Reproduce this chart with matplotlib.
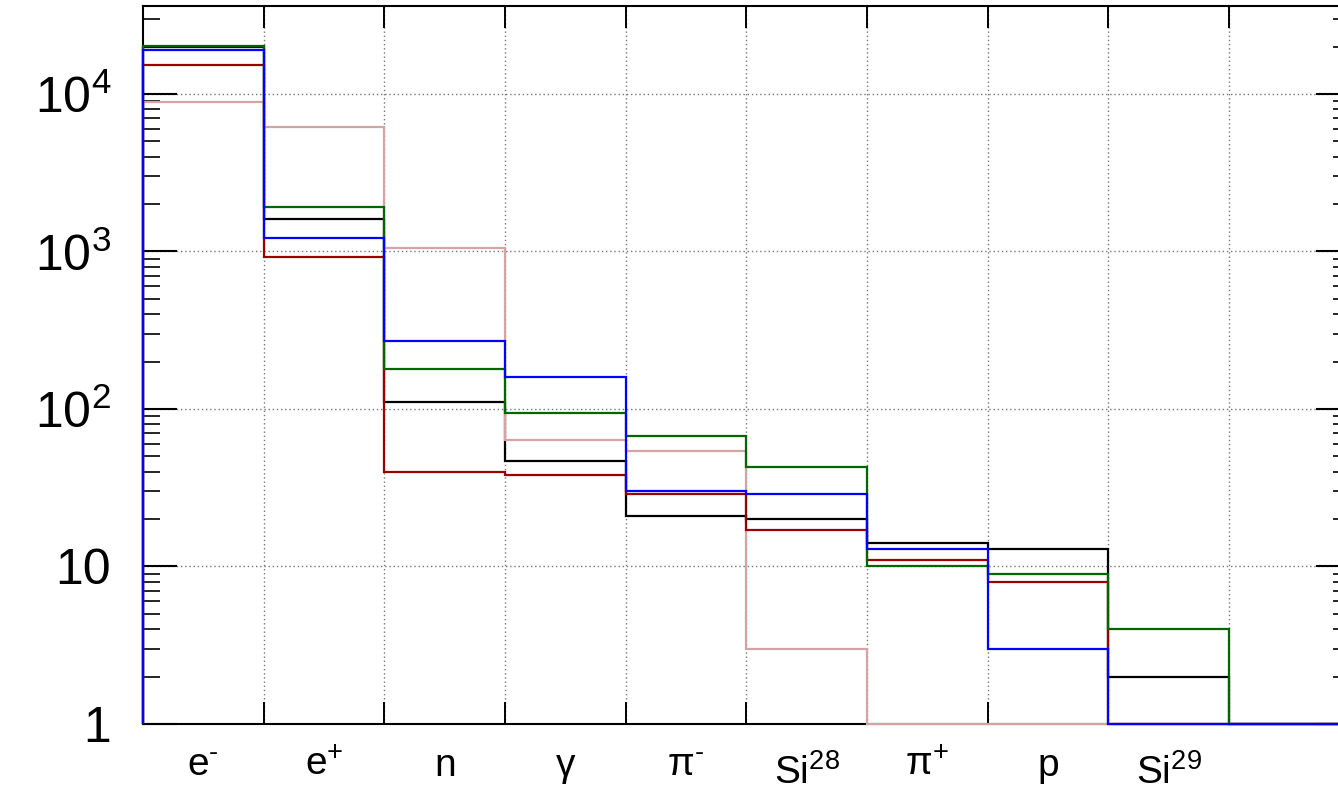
"""Particle multiplicity histograms, log scale, ROOT look."""

import numpy as np
import matplotlib.pyplot as plt
from matplotlib.ticker import FixedLocator, LogLocator, NullFormatter

plt.rcParams['font.family'] = ['Liberation Sans', 'DejaVu Sans']
plt.rcParams['mathtext.fontset'] = 'custom'
plt.rcParams['mathtext.rm'] = 'Liberation Sans'
plt.rcParams['mathtext.it'] = 'Liberation Sans:italic'
plt.rcParams['mathtext.default'] = 'regular'

# bin labels (last bin is empty)
particles = [r'e$^{\text{-}}$', r'e$^{+}$', 'n', 'γ', r'π$^{\text{-}}$',
             r'Si$^{28}$', r'π$^{+}$', 'p', r'Si$^{29}$', '']

# counts per bin
black = [20000, 1615, 110, 47, 21, 20, 14, 13, 2, 0]
pink = [8900, 6170, 1048, 64, 54, 3, 0, 0, 0, 0]
red = [15300, 923, 40, 38, 29, 17, 11, 8, 0, 0]
green = [20300, 1925, 180, 94, 67, 43, 10, 9, 4, 0]
blue = [19000, 1224, 270, 160, 30, 29, 13, 3, 0, 0]

ytick_vals = [1, 10, 100, 1000, 10000]
ytick_labels = ['1', '10', r'10$^{2}$', r'10$^{3}$', r'10$^{4}$']

series = [(black, 'black'), (pink, '#d4a3a3'), (red, '#990000'),
          (green, '#006600'), (blue, '#0000ff')]

W, H = 1338, 794
fig = plt.figure(figsize=(W / 100, H / 100), dpi=100)
ax = fig.add_axes([143 / W, 70 / H, 1206.7 / W, 718 / H])

nbins = len(particles)
edges = np.arange(nbins + 1)
ymin = 1

for i, (vals, col) in enumerate(series):
    v = np.clip(np.asarray(vals, dtype=float), ymin, None)
    ax.stairs(v, edges, baseline=ymin, color=col, lw=1.6,
              clip_on=False, zorder=3 + i)

ax.set_yscale('log')
ax.set_xlim(0, nbins)
ax.set_ylim(ymin, 36200)

# x: labels at bin centres, tick marks at bin edges
ax.xaxis.set_major_locator(FixedLocator(edges[:-1] + 0.5))
ax.set_xticklabels(particles)
ax.xaxis.set_minor_locator(FixedLocator(edges[1:-1]))
ax.tick_params(axis='x', which='major', length=0, labelsize=28, pad=17)
ax.tick_params(axis='x', which='minor', direction='in', length=16,
               width=1.4, top=True, bottom=True)

ax.yaxis.set_major_locator(FixedLocator(ytick_vals))
ax.set_yticklabels(ytick_labels)
ax.yaxis.set_minor_locator(LogLocator(base=10, subs=range(2, 10)))
ax.yaxis.set_minor_formatter(NullFormatter())
ax.tick_params(axis='y', which='major', direction='in', length=24.5,
               width=1.5, left=True, right=True, labelsize=36, pad=23)
ax.tick_params(axis='y', which='minor', direction='in', length=12,
               width=1.2, left=True, right=True)

for t in ax.xaxis.get_major_ticks():
    if 'Si' in t.label1.get_text():
        t.set_pad(22)

ax.grid(which='minor', axis='x', color='#777777', ls=(0, (1, 2)), lw=1)
ax.grid(which='major', axis='y', color='#777777', ls=(0, (1, 2)), lw=1)

for s in ax.spines.values():
    s.set_linewidth(1.5)

fig.savefig('out.png', dpi=100)
